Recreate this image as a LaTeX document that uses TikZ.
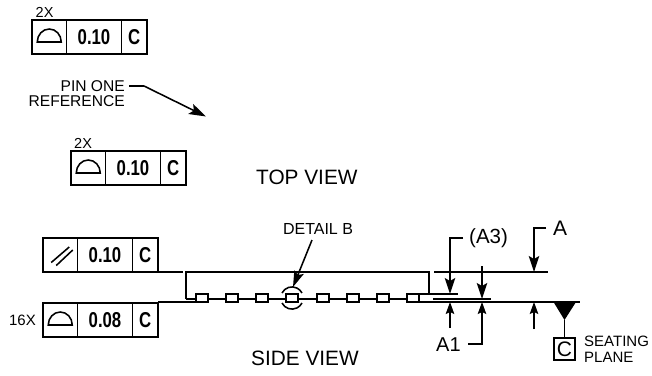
\documentclass[tikz,border=0pt]{standalone}
\usepackage{fontspec}
\setmainfont{Liberation Sans}
\newfontfamily\narrowf[FakeStretch=0.78]{Liberation Sans Bold}
\usetikzlibrary{arrows.meta}
\newcommand{\fsz}[1]{\fontsize{#1}{#1}\selectfont}
\tikzset{
  ln/.style={line width=1.55pt,draw=black,line cap=butt},
  cell/.style={ln,rectangle,inner sep=0pt,outer sep=0pt,minimum height=34pt,text=black,font=\narrowf\fsz{21.5}},
  lbl/.style={inner sep=0pt,text=black},
  pad/.style={ln,rectangle,fill=white,inner sep=0pt,outer sep=0pt,minimum width=12pt,minimum height=8pt},
  bigarrow/.style={ln,-{Stealth[length=16pt,width=10.5pt,inset=3pt]}},
  smallarrow/.style={ln,-{Stealth[length=12pt,width=8.5pt,inset=2pt]}},
}
% #1 name, #2 left x, #3 top y, #4 value
\newcommand{\fcf}[4]{%
  \node[cell,anchor=north west,minimum width=34.5pt] (#1a) at (#2,#3) {};
  \node[cell,anchor=north west,minimum width=55pt] (#1b) at (#1a.north east) {#4};
  \node[cell,anchor=north west,minimum width=25.5pt] (#1c) at (#1b.north east) {C};
}
\newcommand{\flatsym}[1]{%
  \draw[ln] ([shift={(-12,5)}]#1a.center) arc[start angle=180,end angle=360,x radius=12,y radius=13] -- cycle;
}
\begin{document}
\begin{tikzpicture}[x=1pt,y=-1pt]
\useasboundingbox (0,0) rectangle (652,375);
% feature control frames
\fcf{fa}{32}{20}{0.10}\flatsym{fa}
\fcf{fb}{71}{151}{0.10}\flatsym{fb}
\fcf{fc}{43}{238}{0.10}
\fcf{fd}{43}{303}{0.08}\flatsym{fd}
\draw[ln] ([shift={(-9,7.5)}]fca.center) -- ([shift={(9,-8)}]fca.center);
\draw[ln] ([shift={(-4,10.5)}]fca.center) -- ([shift={(12.5,-5)}]fca.center);
% labels
\node[lbl,anchor=base west,font=\fsz{14.5}] (t2xa) at (35.5,17) {2X};
\node[lbl,anchor=base west,font=\fsz{14.5}] (t2xb) at (74,148) {2X};
\node[lbl,anchor=base east,font=\fsz{15}] (t16x) at (36,325.5) {16X};
\node[lbl,anchor=base east,font=\fsz{15.6}] (tpin) at (125,91) {PIN ONE};
\node[lbl,anchor=base east,font=\fsz{15.6}] (tref) at (125,106.5) {REFERENCE};
\node[lbl,anchor=base west,font=\fsz{20.8}] (ttop) at (256,184) {TOP VIEW};
\node[lbl,anchor=base west,font=\fsz{20.8}] (tside) at (251,365) {SIDE VIEW};
\node[lbl,anchor=base,font=\fsz{16}] (tdet) at (318,234) {DETAIL B};
\node[lbl,anchor=base west,font=\fsz{20.5}] (ta3) at (469,243) {(A3)};
\node[lbl,anchor=base west,font=\fsz{21}] (taa) at (553,235) {A};
\node[lbl,anchor=base west,font=\fsz{20}] (ta1) at (436,351) {A1};
\node[lbl,anchor=base west,font=\fsz{15}] (tsea) at (584,346.5) {SEATING};
\node[lbl,anchor=base west,font=\fsz{15}] (tpla) at (584,362) {PLANE};
% pin one arrow
\coordinate (pinbend) at (144,86);
\coordinate (pintip) at (206,116.5);
\draw[ln,-{Stealth[length=17pt,width=11pt,inset=3.5pt]}] (tpin.east |- 0,86) ++(4,0) -- (pinbend) -- (pintip);
% package lines
\coordinate (pkgtl) at (186,272);
\coordinate (pkgtr) at (429,272);
\coordinate (pkgbl) at (186,299);
\coordinate (pkgbr) at (429,294);
\coordinate (refl) at (183,272);
\coordinate (seatend) at (580,302);
\draw[ln] (fcc.south east) -- (refl);
\draw[ln] (pkgbl) -- (pkgtl) -- (pkgtr) -- (pkgbr);
\draw[ln] (pkgbl) -- (407,299);
% pads
\node[pad] (p1) at (202,298) {};
\node[pad] (p2) at (232,298) {};
\node[pad] (p3) at (262,298) {};
\node[pad] (p4) at (292,298) {};
\node[pad] (p5) at (323,298) {};
\node[pad] (p6) at (353,298) {};
\node[pad] (p7) at (383,298) {};
\node[pad] (p8) at (413,298) {};
\draw[ln] (fdc.north east |- p1.south) -- (p1.south west);
\draw[ln] (p8.south east) -- (seatend);
% detail B
\draw[ln] ([shift={(-10,-5)}]p4.center) arc[start angle=207,end angle=333,radius=11.2];
\draw[ln] ([shift={(-10,5)}]p4.center) arc[start angle=153,end angle=27,radius=11.2];
\coordinate (dettail) at (312,240);
\coordinate (dettip) at (293,287);
\draw[ln,-{Stealth[length=16pt,width=10pt,inset=3pt]}] (dettail) -- (dettip);
% extension lines
\coordinate (a) at (434,272);
\coordinate (b) at (548,272);
\draw[ln] (a) -- (b);
\coordinate (c) at (458,294);
\draw[ln] (pkgbr -| p8.north east) -- (c);
\coordinate (d) at (433,299);
\coordinate (e) at (491,299);
\draw[ln] (d) -- (e);
% dimension arrows
\coordinate (aleadS) at (546,228);
\coordinate (aleadB) at (534,228);
\coordinate (aleadT) at (534,272);
\draw[bigarrow] (aleadS) -- (aleadB) -- (aleadT);
\coordinate (a3S) at (463,238);
\coordinate (a3B) at (450,238);
\coordinate (a3T) at (450,294);
\draw[bigarrow] (a3S) -- (a3B) -- (a3T);
\coordinate (a3cS) at (482,266);
\coordinate (a3cT) at (482,299);
\draw[bigarrow] (a3cS) -- (a3cT);
\coordinate (u1S) at (450,328);
\coordinate (u1T) at (450,302);
\draw[smallarrow] (u1S) -- (u1T);
\coordinate (u2S) at (468,344);
\coordinate (u2B) at (482,344);
\coordinate (u2T) at (482,302);
\draw[smallarrow] (u2S) -- (u2B) -- (u2T);
\coordinate (u3S) at (534,329);
\coordinate (u3T) at (534,302);
\draw[smallarrow] (u3S) -- (u3T);
% datum C
\node[ln,rectangle,outer sep=0pt,minimum width=21pt,minimum height=22pt,inner sep=0pt,font=\fsz{21},text=black] (datum) at (564.5,349) {C};
\coordinate (tria) at (553.5,302);
\coordinate (trib) at (576,302);
\coordinate (tric) at (564.5,320);
\fill[black] (tria) -- (trib) -- (tric) -- cycle;
\draw[ln] (tric) -- (datum.north);
\end{tikzpicture}
\end{document}
